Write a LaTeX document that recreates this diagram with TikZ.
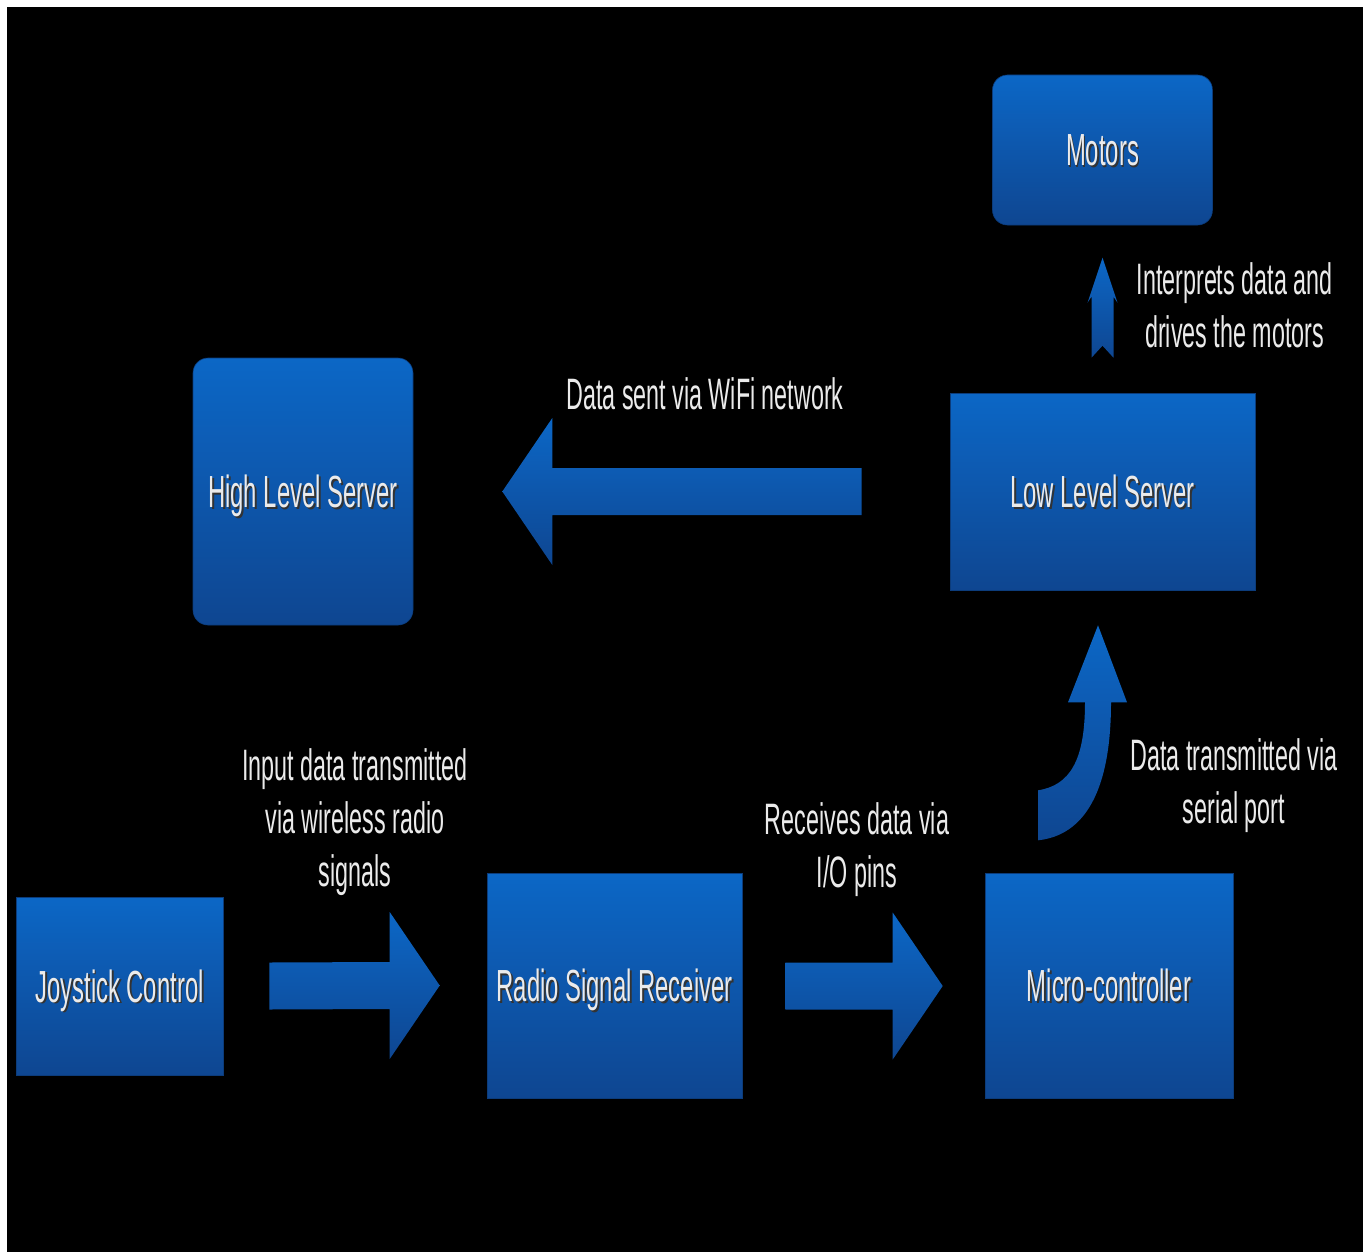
\documentclass[tikz,border=0pt]{standalone}
\usepackage{fontspec}
\setmainfont{Liberation Sans}[FakeStretch=0.53]
\usepackage{xcolor}
\usepackage{tikz}
\usetikzlibrary{calc,positioning}

\definecolor{blocktop}{RGB}{12,103,198}
\definecolor{blockbottom}{RGB}{14,70,145}
\definecolor{labelgray}{RGB}{235,235,235}

\newcommand{\shadowed}[1]{\makebox[0pt][l]{\kern1.8pt\raisebox{-1.8pt}{\color{black!80}#1}}#1}

\begin{document}
\begin{tikzpicture}[x=1pt, y=-1pt,
  every block/.style={top color=blocktop, bottom color=blockbottom,
    draw=blockbottom!85!black, line width=0.6pt, text=labelgray,
    inner sep=0pt, text height=32pt, text depth=0pt,
    font=\fontsize{45}{52}\selectfont},
  round block/.style={every block, rounded corners=15pt},
  block arrow/.style={top color=blocktop, bottom color=blockbottom},
  caption/.style={text=labelgray, align=center, inner sep=0pt,
    font=\fontsize{44}{53}\selectfont}]

% page
\fill [white] (0,0) rectangle (1372,1252);
\fill [black] (7,7) rectangle (1363,1252);

% blocks
\node [every block, minimum width=207, minimum height=178] (joystick) at (119.5,986) {\shadowed{Joystick Control}};
\node [every block, minimum width=255, minimum height=225] (radio) at (614.5,985.5) {\shadowed{Radio Signal Receiver}};
\node [every block, minimum width=248, minimum height=225] (micro) at (1109,985.5) {\shadowed{Micro-controller}};
\node [every block, minimum width=305, minimum height=197] (lowserver) at (1102.5,491.5) {\shadowed{Low Level Server}};
\node [round block, minimum width=220, minimum height=267] (highserver) at (303,491.5) {\shadowed{High Level Server}};
\node [round block, minimum width=220, minimum height=150] (motors) at (1102.5,150) {\shadowed{Motors}};

% captions
\node [caption] (radiotext) at (355,822) {Input data transmitted\\via wireless radio\\signals};
\node [caption] (pinstext) at (857,850) {Receives data via\\I/O pins};
\node [caption] (wifitext) at (705,394) {Data sent via WiFi network};
\node [caption] (motorstext) at (1234.5,305) {Interprets data and\\drives the motors};
\node [caption] (serialtext) at (1234,786) {Data transmitted via\\serial port};

% straight block arrows
\coordinate (sendstart) at ([xshift=46pt]joystick.east);
\coordinate (sendtip) at ([xshift=-47pt]radio.west);
\coordinate (pinsstart) at ([xshift=43pt,yshift=-0.5pt]radio.east);
\coordinate (pinstip) at ([xshift=-42pt,yshift=-0.5pt]micro.west);
\coordinate (wifistart) at ([xshift=-88pt]lowserver.west);
\coordinate (wifitip) at ([xshift=89pt]highserver.east);

\foreach \s/\t/\l in {sendstart/sendtip/50, pinsstart/pinstip/50, wifistart/wifitip/-50}
  \shade [block arrow] ($(\s)+(0,-23.5)$) -- ($(\t)+(-\l,-23.5)$)
    -- ($(\t)+(-\l,-73.5)$) -- (\t) -- ($(\t)+(-\l,73.5)$)
    -- ($(\t)+(-\l,23.5)$) -- ($(\s)+(0,23.5)$) -- cycle;

% notched arrow up to the motors
\coordinate (drivetip) at ([yshift=135pt]lowserver.north);
\begin{scope}[shift={(drivetip)}]
  \shade [block arrow] (0,0) -- (15,45) -- (11,39) -- (11,100) -- (0,88)
    -- (-11,100) -- (-11,39) -- (-15,45) -- cycle;
\end{scope}

% curved arrow up to the low level server
\coordinate (serialtip) at ([xshift=-4.5pt,yshift=-35pt]lowserver.south);
\begin{scope}[shift={(serialtip)}]
  \shade [block arrow] (0,0) -- (29,77) -- (13,77)
    .. controls (13,165) and (-13,210) .. (-60,215) -- (-60,165)
    .. controls (-28,160) and (-13,135) .. (-13,77) -- (-30,77) -- cycle;
\end{scope}

\end{tikzpicture}
\end{document}
